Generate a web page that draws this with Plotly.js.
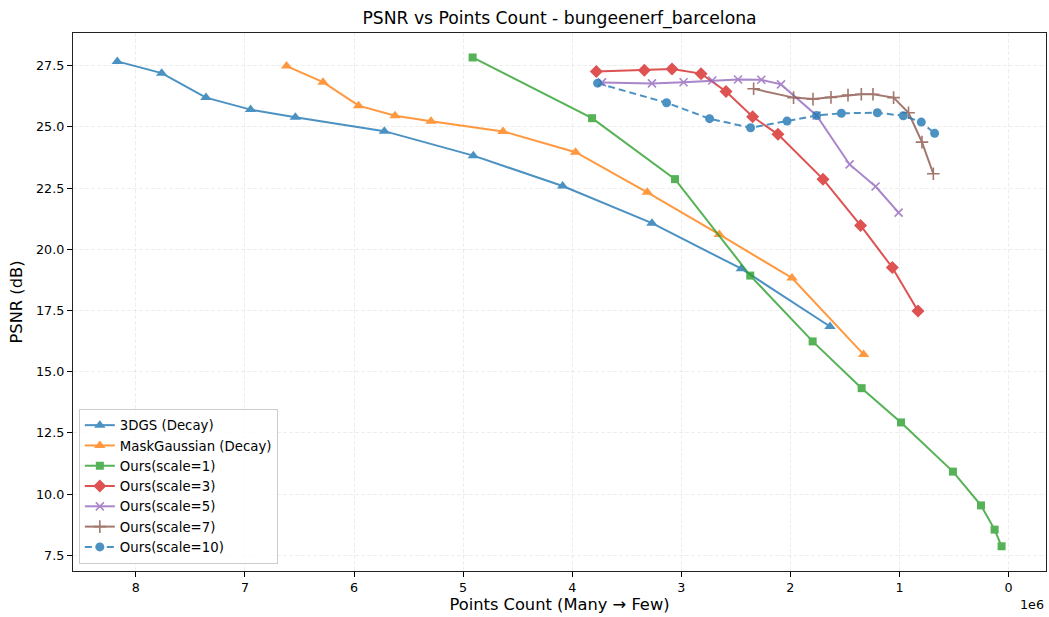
<!DOCTYPE html>
<html>
<head>
<meta charset="utf-8">
<script src="https://cdn.plot.ly/plotly-3.0.1.min.js"></script>
<style>html,body{margin:0;padding:0;background:#fff;}#chart{width:1049px;height:617px;}</style>
</head>
<body>
<div id="chart"></div>
<script>
// Points count (raw) and PSNR (dB) per series
const gs3dX = [8170000, 7763000, 7357000, 6948000, 6538000, 5722000, 4906000, 4088000, 3269000, 2450000, 1637000];
const gs3dY = [27.68, 27.20, 26.20, 25.71, 25.40, 24.83, 23.83, 22.59, 21.07, 19.21, 16.85];

const maskX = [6618000, 6284000, 5958000, 5624000, 5294000, 4634000, 3969000, 3312000, 2652000, 1985000, 1329000];
const maskY = [27.49, 26.83, 25.87, 25.46, 25.23, 24.82, 23.97, 22.33, 20.61, 18.83, 15.71];

const s1X = [4913000, 3818000, 3058000, 2368000, 1796000, 1347000, 986000, 510000, 253000, 128000, 64000];
const s1Y = [27.84, 25.36, 22.87, 18.93, 16.24, 14.33, 12.93, 10.92, 9.54, 8.55, 7.87];

const s3X = [3779000, 3339000, 3085000, 2819000, 2590000, 2346000, 2114000, 1701000, 1357000, 1066000, 830000];
const s3Y = [27.27, 27.32, 27.37, 27.18, 26.45, 25.42, 24.70, 22.87, 20.98, 19.26, 17.48];

const s5X = [3727000, 3269000, 2979000, 2716000, 2480000, 2267000, 2086000, 1760000, 1457000, 1219000, 1008000];
const s5Y = [26.82, 26.78, 26.83, 26.90, 26.94, 26.93, 26.74, 25.47, 23.47, 22.57, 21.50];

const s7X = [2337000, 1971000, 1793000, 1628000, 1472000, 1350000, 1243000, 1054000, 917000, 794000, 690000];
const s7Y = [26.56, 26.20, 26.14, 26.21, 26.30, 26.34, 26.34, 26.20, 25.58, 24.38, 23.09];

const s10X = [3767000, 3135000, 2741000, 2365000, 2031000, 1760000, 1533000, 1203000, 965000, 800000, 678000];
const s10Y = [26.79, 25.99, 25.34, 24.97, 25.24, 25.47, 25.56, 25.58, 25.46, 25.20, 24.74];

const seriesNames = ['3DGS (Decay)', 'MaskGaussian (Decay)', 'Ours(scale=1)', 'Ours(scale=3)', 'Ours(scale=5)', 'Ours(scale=7)', 'Ours(scale=10)'];

const xTickVals = [0, 1000000, 2000000, 3000000, 4000000, 5000000, 6000000, 7000000, 8000000];
const xTickText = ['0', '1', '2', '3', '4', '5', '6', '7', '8'];
const yTickVals = [7.5, 10.0, 12.5, 15.0, 17.5, 20.0, 22.5, 25.0, 27.5];
const yTickText = ['7.5', '10.0', '12.5', '15.0', '17.5', '20.0', '22.5', '25.0', '27.5'];

const FONT = 'DejaVu Sans, sans-serif';

function mk(x, y, name, color, symbol, size, dash, thin) {
  return {
    x: x, y: y, name: name, type: 'scatter', mode: 'lines+markers',
    opacity: 0.8,
    line: {color: color, width: 2, dash: dash || 'solid'},
    marker: {
      symbol: symbol, size: size, color: color,
      line: {color: color, width: thin ? 1.6 : 0}
    }
  };
}

const traces = [
  mk(gs3dX, gs3dY, seriesNames[0], '#1f77b4', 'triangle-up', 10),
  mk(maskX, maskY, seriesNames[1], '#ff7f0e', 'triangle-up', 10),
  mk(s1X, s1Y, seriesNames[2], '#2ca02c', 'square', 8),
  mk(s3X, s3Y, seriesNames[3], '#d62728', 'diamond', 10),
  mk(s5X, s5Y, seriesNames[4], '#9467bd', 'x-thin', 8, null, true),
  mk(s7X, s7Y, seriesNames[5], '#8c564b', 'cross-thin', 9, null, true),
  mk(s10X, s10Y, seriesNames[6], '#1f77b4', 'circle', 9, '7px,4px')
];

const layout = {
  width: 1049, height: 617,
  margin: {l: 73, r: 3, t: 33, b: 46, pad: 0},
  paper_bgcolor: '#ffffff', plot_bgcolor: '#ffffff',
  font: {family: FONT, color: '#000000', size: 12.7},
  title: {
    text: 'PSNR vs Points Count - bungeenerf_barcelona',
    font: {family: FONT, size: 17.2, color: '#000'},
    x: 0.5, xanchor: 'center', xref: 'paper',
    y: 1 - 18 / 617, yref: 'container', yanchor: 'middle'
  },
  xaxis: {
    range: [8576000, -343000],
    tickvals: xTickVals, ticktext: xTickText,
    ticks: 'outside', ticklen: 5, tickwidth: 1, tickcolor: '#000',
    tickfont: {family: FONT, size: 12.7, color: '#000'},
    showline: true, mirror: true, linecolor: '#222', linewidth: 1.2,
    showgrid: true, gridcolor: 'rgba(176,176,176,0.22)', griddash: '4px,2px', gridwidth: 1,
    zeroline: false,
    title: {text: 'Points Count (Many → Few)', font: {family: FONT, size: 16.3, color: '#000'}, standoff: 4}
  },
  yaxis: {
    range: [6.86, 28.84],
    tickvals: yTickVals, ticktext: yTickText,
    ticks: 'outside', ticklen: 5, tickwidth: 1, tickcolor: '#000',
    tickfont: {family: FONT, size: 12.7, color: '#000'},
    showline: true, mirror: true, linecolor: '#222', linewidth: 1.2,
    showgrid: true, gridcolor: 'rgba(176,176,176,0.22)', griddash: '4px,2px', gridwidth: 1,
    zeroline: false,
    title: {text: 'PSNR (dB)', font: {family: FONT, size: 16.3, color: '#000'}, standoff: 9}
  },
  legend: {
    x: 0.006, y: 0.013, xanchor: 'left', yanchor: 'bottom',
    bgcolor: 'rgba(255,255,255,0.8)', bordercolor: '#cccccc', borderwidth: 1,
    font: {family: FONT, size: 13.3, color: '#000'},
    tracegroupgap: 0, itemwidth: 30
  },
  showlegend: true,
  annotations: [{
    text: '1e6', xref: 'paper', yref: 'paper', x: 1.0, y: -0.045,
    xanchor: 'right', yanchor: 'top', showarrow: false,
    font: {family: FONT, size: 12.7, color: '#000'}
  }]
};

Plotly.newPlot('chart', traces, layout, {displayModeBar: false, staticPlot: true});
</script>
</body>
</html>
